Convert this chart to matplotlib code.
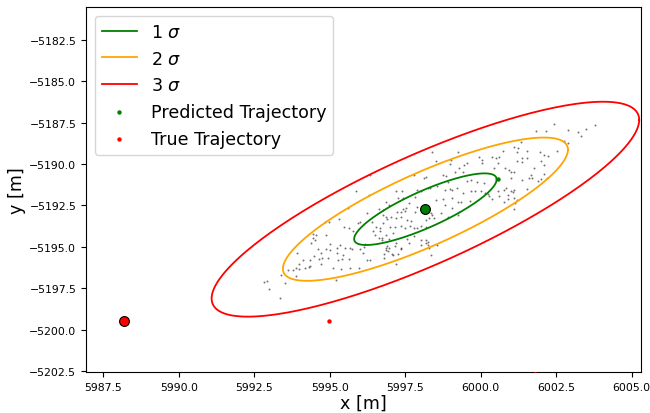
import numpy as np
import matplotlib
matplotlib.use("Agg")
import matplotlib.pyplot as plt

# Particle cloud (x, y) in metres
particle_x = [
    5995.61, 5996.24, 5995.32, 5994.85, 5994.99, 5995.49, 5995.65, 5995.76, 5995.93, 5996.02,
    5994.45, 5994.54, 5994.89, 5994.46, 5994.52, 5994.39, 5995.02, 5995.35, 5995.23, 5994.61,
    5994.89, 5995.02, 5995.68, 5995.73, 5995.52, 5994.71, 5995.24, 5995.43, 5996.12, 5993.91,
    5994.47, 5994.36, 5994.65, 5994.76, 5994.93, 5995.26, 5995.40, 5995.63, 5996.24, 5994.13,
    5993.99, 5994.72, 5994.36, 5994.30, 5994.17, 5994.00, 5993.89, 5993.80, 5993.61, 5995.11,
    5995.38, 5995.68, 5995.97, 5993.39, 5993.89, 5995.22, 5992.92, 5992.83, 5993.53, 5992.99,
    5993.36, 5995.99, 5996.18, 5996.15, 5996.35,
    5998.40, 5999.25, 5999.94, 6000.06, 6000.04, 5999.01, 5998.97, 5999.56, 5999.45, 5998.51,
    5999.28, 5999.16, 5999.40, 5997.79, 5998.12, 5998.20, 5998.74, 5998.85, 5999.67, 5999.56,
    5999.89, 6000.11, 5998.92, 5998.57, 5998.31, 5998.25, 5997.18, 5997.40, 5997.90, 5998.01,
    5998.97, 5999.06, 5998.81, 5999.23, 5999.40, 5999.67, 5999.81, 6000.00, 6000.14, 6000.25,
    6000.28, 5997.82, 5997.42, 5997.26, 5998.51, 5998.75, 5999.06, 5999.25, 5999.34, 5999.64,
    5996.85, 5996.96, 5997.62, 5997.54, 5997.43, 5997.48, 5998.82, 5999.04, 5996.62, 5996.77,
    5997.24, 5997.35, 5997.20, 5997.35, 5997.90, 5997.84, 5998.34, 5998.40, 5998.45, 5998.29,
    5998.69, 5998.92, 5999.28, 5999.25, 5996.75, 5996.88, 5997.04, 5996.90, 5996.77, 5997.57,
    5997.68, 5998.18, 5996.41, 5996.55, 5996.66, 5996.68, 5997.01, 5997.15, 5997.37, 5997.50,
    5997.65, 5997.79, 5997.90, 5998.01, 5998.18, 5996.43, 5996.51, 5996.62, 5996.74, 5996.87,
    5997.10, 5996.96, 5997.18, 5997.35, 5997.79, 5997.57, 5998.01, 5998.18, 5998.01, 5998.29,
    5996.88, 5996.79, 5997.10, 5998.34,
    6002.44, 6003.79, 6001.83, 6002.16, 6002.88, 6003.49, 6003.24, 6003.33, 6002.75, 6002.88,
    6001.33, 6001.09, 6001.24, 6001.53, 6001.22, 6000.73, 6000.36, 6000.61, 6000.50, 6001.97,
    6002.11, 6002.24, 6002.53, 6001.38, 6001.55, 6001.36, 6001.19, 6001.99, 6002.11, 6001.77,
    6002.11, 6000.56, 6000.43, 6000.80, 6000.94, 6001.02, 6001.09, 6001.00, 6001.36, 6001.66,
    6001.61, 6001.70, 6001.89, 6002.00, 6002.20, 6000.83, 6000.78, 6001.02, 6001.06, 6001.09,
    6001.55, 6000.58, 6000.89, 6000.61, 6000.39, 6000.91, 6001.09, 6001.22, 6001.13, 6000.78,
    6001.12,
    5996.74, 5996.90, 5996.95, 5996.85, 5996.92, 5997.15, 5997.35, 5997.05, 5997.26, 5996.79,
    5997.19, 5997.64, 5998.18, 5998.25, 5998.25, 5998.57,
    5995.88, 5996.29, 5996.32,
]
particle_y = [
    -5192.68, -5192.98, -5193.33, -5193.49, -5193.49, -5193.79, -5193.85, -5194.06, -5193.59, -5193.53,
    -5194.20, -5194.30, -5194.26, -5194.46, -5194.60, -5194.76, -5194.86, -5194.91, -5195.06, -5195.15,
    -5195.15, -5195.21, -5195.06, -5195.15, -5195.06, -5195.35, -5195.37, -5195.47, -5195.35, -5195.37,
    -5195.55, -5195.82, -5195.71, -5195.67, -5195.67, -5195.82, -5195.75, -5195.71, -5195.77, -5195.77,
    -5196.02, -5196.06, -5196.15, -5196.22, -5196.26, -5196.32, -5196.26, -5196.38, -5196.42, -5196.26,
    -5196.32, -5196.28, -5196.28, -5196.68, -5196.76, -5197.03, -5197.06, -5197.12, -5197.18, -5197.53,
    -5198.09, -5195.11, -5194.86, -5195.00, -5195.82,
    -5189.29, -5189.29, -5189.59, -5189.75, -5189.95, -5189.75, -5190.02, -5189.95, -5190.06, -5189.82,
    -5190.26, -5190.46, -5190.50, -5190.66, -5190.86, -5190.79, -5190.66, -5190.70, -5190.97, -5191.03,
    -5191.06, -5191.12, -5191.06, -5191.31, -5191.43, -5191.43, -5191.63, -5191.63, -5191.57, -5191.63,
    -5191.51, -5191.57, -5191.57, -5191.43, -5191.73, -5191.63, -5191.63, -5191.63, -5191.73, -5191.83,
    -5191.91, -5191.97, -5192.03, -5192.08, -5192.18, -5192.12, -5192.08, -5192.32, -5192.32, -5192.24,
    -5192.28, -5192.48, -5192.38, -5192.68, -5192.74, -5192.85, -5192.48, -5192.64, -5192.72, -5192.78,
    -5192.88, -5192.88, -5193.29, -5193.18, -5192.58, -5192.88, -5192.98, -5193.09, -5193.25, -5193.29,
    -5192.98, -5193.18, -5192.88, -5193.09, -5193.09, -5193.18, -5193.18, -5193.33, -5193.59, -5193.39,
    -5193.45, -5193.39, -5193.53, -5193.79, -5193.89, -5194.06, -5193.79, -5193.83, -5193.75, -5193.89,
    -5193.73, -5193.89, -5193.85, -5193.73, -5193.83, -5194.06, -5194.26, -5194.46, -5194.46, -5194.30,
    -5194.14, -5194.54, -5194.80, -5195.11, -5194.34, -5194.50, -5194.60, -5194.80, -5194.91, -5195.05,
    -5195.06, -5195.41, -5195.51, -5195.51,
    -5187.59, -5187.67, -5188.00, -5188.00, -5187.94, -5187.89, -5188.08, -5188.34, -5188.60, -5188.74,
    -5188.68, -5189.00, -5189.05, -5189.21, -5189.25, -5189.21, -5189.55, -5189.55, -5189.65, -5189.29,
    -5189.45, -5189.49, -5189.21, -5189.61, -5189.61, -5189.91, -5189.85, -5189.85, -5190.06, -5190.26,
    -5190.62, -5189.95, -5190.26, -5190.26, -5190.36, -5190.46, -5190.46, -5190.86, -5190.97, -5190.66,
    -5190.82, -5190.86, -5191.03, -5190.92, -5190.82, -5191.43, -5191.57, -5191.63, -5191.71, -5191.57,
    -5191.51, -5191.63, -5191.88, -5191.91, -5192.12, -5192.14, -5192.08, -5192.18, -5192.38, -5192.32,
    -5192.72,
    -5194.60, -5194.94, -5195.06, -5195.21, -5195.27, -5194.94, -5195.06, -5195.41, -5195.41, -5195.67,
    -5196.02, -5194.80, -5194.60, -5194.74, -5194.91, -5194.91,
    -5191.63, -5191.88, -5190.68,
]

# Trajectories
pred_x = [5998.17, 6000.57]
pred_y = [-5192.72, -5190.88]
true_x = [5988.18, 5994.98, 6001.80]
true_y = [-5199.48, -5199.46, -5202.66]

# Gaussian estimate of the particle set
est_mean = [5998.17, -5192.73]
est_cov = [[5.57, 4.24],
           [4.24, 4.68]]
sigma_levels = [1, 2, 3]
sigma_colors = ["green", "orange", "red"]
sigma_labels = [r"1 $\sigma$", r"2 $\sigma$", r"3 $\sigma$"]

fig = plt.figure(figsize=(6.5, 4.14), dpi=100)
ax = fig.add_axes([86 / 650, 1 - 373.3 / 414, (641 - 86) / 650, (373.3 - 8) / 414])

# particles
ax.scatter(particle_x, particle_y, s=2.0, c="k", alpha=0.55, linewidths=0, zorder=1)

# confidence ellipses from the covariance
t = np.linspace(0, 2 * np.pi, 300)
L = np.linalg.cholesky(np.array(est_cov))
circle = np.vstack([np.cos(t), np.sin(t)])
for k, col, lab in zip(sigma_levels, sigma_colors, sigma_labels):
    pts = k * (L @ circle)
    ax.plot(est_mean[0] + pts[0], est_mean[1] + pts[1], color=col, lw=1.3, label=lab, zorder=2)

# trajectories
ax.scatter(pred_x, pred_y, s=10, c="green", linewidths=0, label="Predicted Trajectory", zorder=3)
ax.scatter(true_x, true_y, s=10, c="red", linewidths=0, label="True Trajectory", zorder=3)
ax.scatter(pred_x[:1], pred_y[:1], s=50, c="green", edgecolors="black", linewidths=0.8, zorder=4)
ax.scatter(true_x[:1], true_y[:1], s=50, c="red", edgecolors="black", linewidths=0.8, zorder=4)

ax.set_xlim(5986.93, 6005.31)
ax.set_ylim(-5202.58, -5180.52)
ax.set_xticks(np.arange(5987.5, 6005.01, 2.5))
ax.set_yticks(np.arange(-5202.5, -5182.49, 2.5))
ax.tick_params(labelsize=7.8, length=3.5, width=0.8)

ax.set_xlabel("x [m]", fontsize=12.6, labelpad=1)
ax.set_ylabel("y [m]", fontsize=12.6, labelpad=2)

ax.legend(loc="upper left", fontsize=12.6, scatterpoints=1)

fig.savefig("out.png", dpi=100)
